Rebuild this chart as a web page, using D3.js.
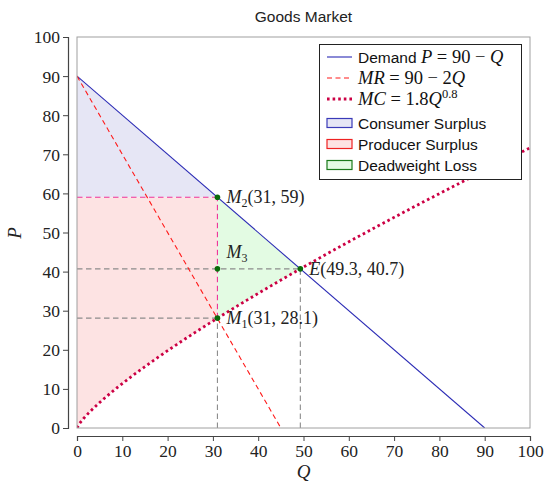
<!DOCTYPE html>
<html>
<head>
<meta charset="utf-8">
<script src="https://cdn.jsdelivr.net/npm/d3@7"></script>
<style>
  body { margin: 0; background: #fff; }
  svg { display: block; }
</style>
</head>
<body>
<svg id="chart" width="545" height="483"></svg>
<script>
// Market model: inverse demand P = a - Q, MR = a - 2Q, MC = c * Q^k
const demandParams = [90, 1];     // intercept, slope
const mrParams = [90, 2];         // intercept, slope
const mcParams = [1.8, 0.8];      // coefficient, exponent

// Marked points
const pointNames = ["M2", "M3", "M1", "E"];
const pointQ = [31, 31, 31, 49.3];
const pointP = [59, 40.7, 28.1, 40.7];

const xTicks = [0, 10, 20, 30, 40, 50, 60, 70, 80, 90, 100];
const yTicks = [0, 10, 20, 30, 40, 50, 60, 70, 80, 90, 100];

const demand = q => demandParams[0] - demandParams[1] * q;
const mr = q => mrParams[0] - mrParams[1] * q;
const mc = q => mcParams[0] * Math.pow(q, mcParams[1]);

const svg = d3.select("#chart");
const L = 77, R = 530, T = 37, B = 428;
const x = d3.scaleLinear().domain([0, 100]).range([L, R]);
const y = d3.scaleLinear().domain([0, 100]).range([B, T]);

const serif = "'Liberation Serif', 'DejaVu Serif', serif";
const sans = "'Liberation Sans', 'DejaVu Sans', sans-serif";

svg.append("defs").append("clipPath").attr("id", "plotclip")
  .append("rect").attr("x", L).attr("y", T).attr("width", R - L).attr("height", B - T);

const plot = svg.append("g").attr("clip-path", "url(#plotclip)");

const qm = pointQ[0], pm = pointP[0], pc = pointP[2];
const qe = pointQ[3], pe = pointP[3];

// Consumer surplus
plot.append("path")
  .attr("d", d3.line()([[x(0), y(demand(0))], [x(qm), y(pm)], [x(0), y(pm)]]))
  .attr("fill", "#e6e6f5").attr("stroke", "none");

// Producer surplus: below monopoly price, above MC
const psPts = [[x(0), y(pm)], [x(qm), y(pm)]];
d3.range(qm, -0.001, -0.5).forEach(q => psPts.push([x(q), y(mc(Math.max(q, 0)))]));
psPts.push([x(0), y(0)]);
plot.append("path").attr("d", d3.line()(psPts) + "Z")
  .attr("fill", "#fde3e3").attr("stroke", "none");

// Deadweight loss
const dwPts = [];
d3.range(qm, qe, 0.5).forEach(q => dwPts.push([x(q), y(demand(q))]));
dwPts.push([x(qe), y(pe)]);
d3.range(qe, qm - 0.001, -0.5).forEach(q => dwPts.push([x(q), y(mc(q))]));
dwPts.push([x(qm), y(mc(qm))]);
plot.append("path").attr("d", d3.line()(dwPts) + "Z")
  .attr("fill", "#e3fbe3").attr("stroke", "none");

// Guide lines
const gray = "#8c8c8c";
const guides = [
  [[0, pe], [qe, pe], gray],
  [[0, pc], [qm, pc], gray],
  [[qe, 0], [qe, pe], gray],
  [[qm, 0], [qm, pc], gray],
  [[0, pm], [qm, pm], "#ee3399"],
  [[qm, pc], [qm, pm], "#ee3399"]
];
guides.forEach(g => {
  plot.append("line")
    .attr("x1", x(g[0][0])).attr("y1", y(g[0][1]))
    .attr("x2", x(g[1][0])).attr("y2", y(g[1][1]))
    .attr("stroke", g[2]).attr("stroke-width", 1.1).attr("stroke-dasharray", "5.5,3.5");
});

// Demand
plot.append("line")
  .attr("x1", x(0)).attr("y1", y(demand(0)))
  .attr("x2", x(90)).attr("y2", y(demand(90)))
  .attr("stroke", "#2b2bb5").attr("stroke-width", 1.1);

// Marginal revenue
plot.append("line")
  .attr("x1", x(0)).attr("y1", y(mr(0)))
  .attr("x2", x(45)).attr("y2", y(mr(45)))
  .attr("stroke", "#ff1a1a").attr("stroke-width", 1.1).attr("stroke-dasharray", "5,3.5");

// Marginal cost
const mcPts = d3.range(0, 100.01, 0.5).map(q => [x(q), y(mc(q))]);
plot.append("path").attr("d", d3.line()(mcPts))
  .attr("fill", "none").attr("stroke", "#cc0044").attr("stroke-width", 2.8)
  .attr("stroke-dasharray", "2.6,3");

// Points
pointNames.forEach((n, i) => {
  svg.append("circle").attr("cx", x(pointQ[i])).attr("cy", y(pointP[i]))
    .attr("r", 2.8).attr("fill", "#0a6b0a");
});

// Frame
svg.append("rect").attr("x", L).attr("y", T).attr("width", R - L).attr("height", B - T)
  .attr("fill", "none").attr("stroke", "#a0a0a0").attr("stroke-width", 1);

// Point labels
function mathLabel(tx, ty, name, sub, coords) {
  const t = svg.append("text").attr("x", tx).attr("y", ty)
    .attr("font-family", serif).attr("font-size", 18).attr("fill", "#222");
  t.append("tspan").attr("font-style", "italic").text(name);
  if (sub) t.append("tspan").attr("font-size", 12).attr("dy", 4).text(sub);
  if (coords) t.append("tspan").attr("dy", sub ? -4 : 0).text(coords);
}
mathLabel(x(qm) + 9, y(pm) + 6, "M", "2", `(${pointQ[0]}, ${pointP[0]})`);
mathLabel(x(qm) + 9, y(pointP[1]) - 11, "M", "3", null);
mathLabel(x(qm) + 9, y(pc) + 6, "M", "1", `(${pointQ[2]}, ${pointP[2]})`);
mathLabel(x(qe) + 9, y(pe) + 6, "E", null, `(${pointQ[3]}, ${pointP[3]})`);

// Axes, offset from the frame
const xAxis = d3.axisBottom(x).tickValues(xTicks).tickSize(5).tickPadding(4).tickFormat(d3.format("d"));
const yAxis = d3.axisLeft(y).tickValues(yTicks).tickSize(5).tickPadding(3).tickFormat(d3.format("d"));
const gx = svg.append("g").attr("transform", `translate(0,436)`).call(xAxis);
const gy = svg.append("g").attr("transform", `translate(68,0)`).call(yAxis);
[gx, gy].forEach(g => {
  g.select(".domain").attr("stroke", "#444").attr("stroke-width", 1.2);
  g.selectAll(".tick line").attr("stroke", "#444");
  g.selectAll(".tick text").attr("font-family", serif).attr("font-size", 17.5).attr("fill", "#222");
});
gy.selectAll(".tick text").attr("dy", "0.34em");

// Axis titles
svg.append("text").attr("x", (L + R) / 2).attr("y", 478).attr("text-anchor", "middle")
  .attr("font-family", serif).attr("font-style", "italic").attr("font-size", 19).attr("fill", "#222").text("Q");
svg.append("text").attr("transform", "translate(21,233) rotate(-90)").attr("text-anchor", "middle")
  .attr("font-family", serif).attr("font-style", "italic").attr("font-size", 19).attr("fill", "#222").text("P");

// Title
svg.append("text").attr("x", (L + R) / 2).attr("y", 22).attr("text-anchor", "middle")
  .attr("font-family", sans).attr("font-size", 15.5).attr("fill", "#222").text("Goods Market");

// Legend
const lg = svg.append("g");
lg.append("rect").attr("x", 319.5).attr("y", 44.5).attr("width", 202).attr("height", 135)
  .attr("fill", "#fff").attr("stroke", "#222").attr("stroke-width", 1);
const rowY = [57, 78, 99, 123, 144, 165];
const lx0 = 327, lx1 = 352, tx = 358;
// line samples
lg.append("line").attr("x1", lx0).attr("x2", lx1).attr("y1", rowY[0]).attr("y2", rowY[0])
  .attr("stroke", "#2b2bb5").attr("stroke-width", 1.1);
lg.append("line").attr("x1", lx0).attr("x2", lx1).attr("y1", rowY[1]).attr("y2", rowY[1])
  .attr("stroke", "#ff1a1a").attr("stroke-width", 1.1).attr("stroke-dasharray", "5,3.5");
lg.append("line").attr("x1", lx0).attr("x2", lx1).attr("y1", rowY[2]).attr("y2", rowY[2])
  .attr("stroke", "#cc0044").attr("stroke-width", 2.8).attr("stroke-dasharray", "2.6,3");
// patches
const patches = [["#e6e6f5", "#3a3ab8"], ["#fde3e3", "#ee2222"], ["#e3fbe3", "#1a7a1a"]];
patches.forEach((p, i) => {
  lg.append("rect").attr("x", lx0).attr("y", rowY[3 + i] - 4.5).attr("width", lx1 - lx0).attr("height", 9)
    .attr("fill", p[0]).attr("stroke", p[1]).attr("stroke-width", 1.2);
});
// labels
function legText(i) {
  return lg.append("text").attr("x", tx).attr("y", rowY[i] + 5.5)
    .attr("font-size", 15.5).attr("fill", "#111");
}
const eqSize = 18.5;
let t0 = legText(0);
t0.append("tspan").attr("font-family", sans).text("Demand ");
t0.append("tspan").attr("font-family", serif).attr("font-size", eqSize)
  .html("<tspan font-style='italic'>P</tspan> = 90 − <tspan font-style='italic'>Q</tspan>");
let t1 = legText(1).attr("font-family", serif).attr("font-size", eqSize);
t1.html("<tspan font-style='italic'>MR</tspan> = 90 − 2<tspan font-style='italic'>Q</tspan>");
let t2 = legText(2).attr("font-family", serif).attr("font-size", eqSize);
t2.html("<tspan font-style='italic'>MC</tspan> = 1.8<tspan font-style='italic'>Q</tspan><tspan font-size='12.5' dy='-7'>0.8</tspan>");
legText(3).attr("font-family", sans).text("Consumer Surplus");
legText(4).attr("font-family", sans).text("Producer Surplus");
legText(5).attr("font-family", sans).text("Deadweight Loss");
</script>
</body>
</html>
